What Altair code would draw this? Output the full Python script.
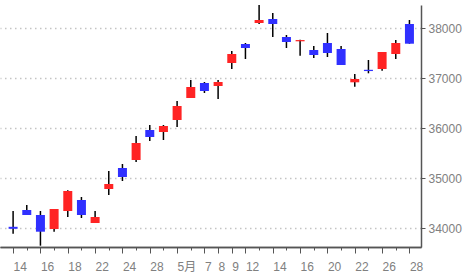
import json
import altair as alt
import pandas as pd

# Trading days (Apr 14 – May 28)
dates = ["4/14", "4/15", "4/16", "4/17", "4/18", "4/21", "4/22", "4/23", "4/24", "4/25",
         "4/28", "4/30", "5/1", "5/2", "5/7", "5/8", "5/9", "5/12", "5/13", "5/14",
         "5/15", "5/16", "5/19", "5/20", "5/21", "5/22", "5/23", "5/26", "5/27", "5/28"]
tick_labels = ["14", "", "16", "", "18", "", "22", "", "24", "",
               "28", "", "5月", "", "7", "8", "9", "12", "", "14",
               "", "16", "", "20", "", "22", "", "26", "", "28"]
opens = [34030, 34366, 34266, 33986, 34346, 34566, 34106, 34786, 35206, 35366,
         35966, 35926, 36166, 36606, 36906, 36846, 37306, 37686, 38106, 38186,
         37826, 37740, 37566, 37706, 37586, 36920, 37170, 37186, 37486, 38086]
highs = [34346, 34466, 34346, 34386, 34760, 34626, 34346, 35146, 35286, 35846,
         36066, 36066, 36546, 36966, 36926, 36966, 37546, 37706, 38466, 38306,
         37866, 37770, 37646, 37906, 37646, 37086, 37366, 37526, 37766, 38166]
lows = [33892, 34266, 33652, 33932, 34226, 34206, 34106, 34666, 34946, 35326,
        35746, 35766, 36026, 36606, 36706, 36586, 37186, 37386, 38086, 37826,
        37606, 37450, 37406, 37426, 37266, 36832, 37100, 37152, 37386, 37692]
closes = [33990, 34266, 33932, 34386, 34746, 34266, 34226, 34886, 35026, 35706,
          35826, 36046, 36446, 36826, 36746, 36926, 37486, 37606, 38166, 38086,
          37726, 37765, 37466, 37506, 37266, 36986, 37145, 37526, 37706, 37692]
y_ticks = [34000, 35000, 36000, 37000, 38000]

RED = "#ff2424"
BLUE = "#3030ff"
FONT = "Liberation Sans, 'Noto Sans CJK JP', sans-serif"

df = pd.DataFrame({
    "i": list(range(len(dates))),
    "date": dates,
    "open": opens,
    "high": highs,
    "low": lows,
    "close": closes,
})
df["dir"] = ["up" if c >= o else "down" for o, c in zip(opens, closes)]

labeled = [i for i, t in enumerate(tick_labels) if t]
label_expr = json.dumps(tick_labels, ensure_ascii=False) + "[datum.value]"

xscale = alt.Scale(domain=[-0.593, 29.48], nice=False, zero=False)
yscale = alt.Scale(domain=[33626, 38466], nice=False, zero=False)

wick = alt.Chart(df).mark_rule(color="black", strokeWidth=1.5).encode(
    x=alt.X("i:Q", scale=xscale,
            axis=alt.Axis(orient="bottom", values=list(range(len(dates))), tickSize=3,
                          labels=False, title=None, grid=False,
                          domainColor="#555555", domainWidth=1.5,
                          tickColor="#555555", tickWidth=1)),
    y=alt.Y("low:Q", scale=yscale,
            axis=alt.Axis(orient="right", values=y_ticks, format="d", title=None,
                          grid=True, gridDash=[1.5, 3.5], gridColor="#c4c4c4", gridWidth=1.5,
                          tickSize=4, tickColor="#555555", tickWidth=1,
                          domainColor="#555555", domainWidth=1.5,
                          labelFont=FONT, labelFontSize=12, labelColor="#808080",
                          labelPadding=3)),
    y2="high:Q",
)

body = alt.Chart(df).mark_bar(size=9).encode(
    x=alt.X("i:Q", scale=xscale,
            axis=alt.Axis(orient="bottom", values=labeled, tickSize=6,
                          labelExpr=label_expr, title=None, grid=False,
                          labelOverlap=False, labelFlush=False,
                          labelAlign="left", labelPadding=8,
                          labelFont=FONT, labelFontSize=12, labelColor="#808080",
                          domainColor="#555555", domainWidth=1.5,
                          tickColor="#555555", tickWidth=1)),
    y=alt.Y("open:Q", scale=yscale, axis=alt.Axis(title=None)),
    y2="close:Q",
    color=alt.Color("dir:N", scale=alt.Scale(domain=["up", "down"], range=[RED, BLUE]),
                    legend=None),
)

chart = alt.layer(wick, body).resolve_axis(x="independent").properties(
    width=421, height=242, autosize="none",
    padding={"left": 0, "top": 5, "right": 49, "bottom": 31},
).configure_view(stroke=None)

chart.save("out.html", embed_options={"renderer": "svg", "actions": False})
